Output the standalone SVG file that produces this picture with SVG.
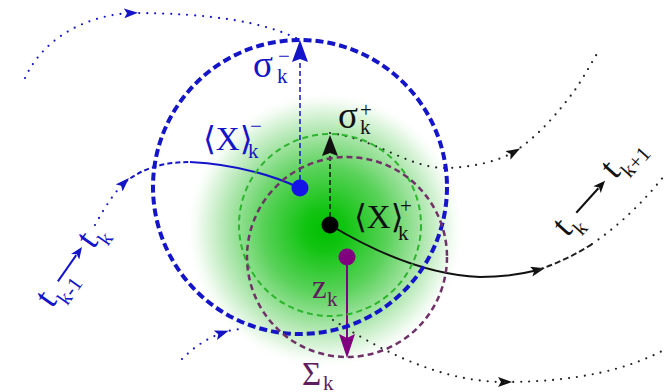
<svg xmlns="http://www.w3.org/2000/svg" width="664" height="392" viewBox="0 0 664 392">
<defs>
<radialGradient id="glow" cx="325" cy="230" r="140" gradientUnits="userSpaceOnUse">
<stop offset="0" stop-color="#00c000"/>
<stop offset="0.15" stop-color="#12c412"/>
<stop offset="0.45" stop-color="#5ad25a"/>
<stop offset="0.7" stop-color="#ade6ad"/>
<stop offset="0.88" stop-color="#e8f8e8"/>
<stop offset="1" stop-color="#ffffff" stop-opacity="0"/>
</radialGradient>
<marker id="mb" markerWidth="14" markerHeight="10" refX="7" refY="5" orient="auto" markerUnits="userSpaceOnUse"><path d="M0,0 L14,5 L0,10 L3,5 z" fill="#1414c8"/></marker>
<marker id="mk" markerWidth="14" markerHeight="10" refX="7" refY="5" orient="auto" markerUnits="userSpaceOnUse"><path d="M0,0 L14,5 L0,10 L3,5 z" fill="#111"/></marker>
<marker id="lb" markerWidth="12" markerHeight="10" refX="2" refY="5" orient="auto" markerUnits="userSpaceOnUse"><path d="M0,0 L12,5 L0,10 L3,5 z" fill="#1414c8"/></marker>
<marker id="lk" markerWidth="12" markerHeight="10" refX="2" refY="5" orient="auto" markerUnits="userSpaceOnUse"><path d="M0,0 L12,5 L0,10 L3,5 z" fill="#111"/></marker>
</defs>
<style>
text{font-family:"Liberation Serif","DejaVu Serif",serif}
.big{font-size:33px}
.sig{font-size:37px}
.tt{font-size:36px}
.sub{font-size:21px}
.blue{fill:#1414c8}
.blk{fill:#111}
.pur{fill:#5e1e5e}
.dotb{fill:none;stroke:#1414c8;stroke-width:2.2;stroke-linecap:round;stroke-dasharray:0 8}
.dotk{fill:none;stroke:#222;stroke-width:2.2;stroke-linecap:round;stroke-dasharray:0 8}
</style>
<rect x="0" y="0" width="664" height="392" fill="#fff"/>
<circle cx="325" cy="230" r="140" fill="url(#glow)"/>

<g id="connectors">
<path class="dotb" d="M25,78 C45,35 90,15 131,13" marker-end="url(#mb)"/>
<path class="dotb" d="M131,13 C210,13 265,22 300,40"/>
<path class="dotb" d="M95,225 C105,207 114,193 124,183" marker-end="url(#mb)"/>
<path fill="none" stroke="#1414c8" stroke-width="2" stroke-dasharray="5 3" d="M124,183 C140,170 160,162 190,162"/>
<path fill="none" stroke="#1414c8" stroke-width="2" d="M190,162 C230,164 265,172 300,188"/>
<path class="dotb" d="M182,359 C192,349 205,339 222,333" marker-end="url(#mb)"/>
<path class="dotb" d="M222,333 C230,330 238,329 245,329"/>
<path class="dotk" d="M333,320 C380,350 440,382 505,382" marker-end="url(#mk)"/>
<path class="dotk" d="M505,382 C580,382 630,368 664,350"/>
<path class="dotk" d="M330,133 C380,140 410,170 450,168 C480,166 500,160 514,152" marker-end="url(#mk)"/>
<path class="dotk" d="M514,152 C540,135 560,110 575,90 C585,75 592,62 598,52"/>
<path fill="none" stroke="#111" stroke-width="2" d="M330,225 C380,255 430,275 480,277 C505,277 522,274 538,270" marker-end="url(#mk)"/>
<path fill="none" stroke="#222" stroke-width="2" stroke-dasharray="6 3" d="M538,270 C558,263 575,255 592,244"/>
<path class="dotk" d="M592,244 C620,225 645,200 664,176"/>
<line x1="300" y1="188" x2="300" y2="60" stroke="#1414c8" stroke-width="1.5" stroke-dasharray="5 3"/>
<polygon points="300,40 308,62 300,59 292,62" fill="#1414c8"/>
<line x1="330" y1="225" x2="330" y2="152" stroke="#111" stroke-width="1.5" stroke-dasharray="5 3"/>
<polygon points="330,135 338,156 330,153 322,156" fill="#111"/>
<line x1="347" y1="257" x2="347" y2="338" stroke="#800080" stroke-width="2"/>
<polygon points="347,358 355,334 347,338 339,334" fill="#800080"/>
</g>

<g id="circle-minus">
<circle cx="300" cy="187" r="147" fill="none" stroke="#1414c8" stroke-width="4" stroke-dasharray="8 4"/>
</g>
<g id="circle-plus">
<circle cx="330" cy="225" r="91" fill="none" stroke="#2db52d" stroke-width="2" stroke-dasharray="6 4"/>
</g>
<g id="circle-z">
<circle cx="347" cy="257" r="100" fill="none" stroke="#703068" stroke-width="2.5" stroke-dasharray="6 4"/>
</g>

<g id="node-xminus">
<circle cx="300" cy="188" r="8.5" fill="#1414e6"/>
<text class="big blue" x="203" y="150">⟨X⟩</text>
<text class="sub blue" x="248" y="158">k</text>
<text class="sub blue" x="250" y="133">−</text>
</g>
<g id="node-xplus">
<circle cx="330" cy="225" r="8.5" fill="#000"/>
<text class="big blk" x="354" y="228">⟨X⟩</text>
<text class="sub blk" x="398" y="240">k</text>
<text class="sub blk" x="400" y="213">+</text>
</g>
<g id="node-z">
<circle cx="347" cy="257" r="8.5" fill="#800080"/>
<text class="big pur" x="312" y="298">z</text>
<text class="sub pur" x="327" y="306">k</text>
<text class="big pur" x="302" y="385">Σ</text>
<text class="sub pur" x="323" y="390">k</text>
</g>
<g id="label-sigma-minus">
<text class="sig blue" x="253" y="77">σ</text>
<text class="sub blue" x="277" y="83">k</text>
<text class="sub blue" x="278" y="63">−</text>
</g>
<g id="label-sigma-plus">
<text class="sig blk" x="338" y="128">σ</text>
<text class="sub blk" x="360" y="134">k</text>
<text class="sub blk" x="360" y="117">+</text>
</g>
<g id="label-left-time" transform="translate(52,309) rotate(-55)">
<text class="tt blue" x="0" y="0">t</text>
<text class="sub blue" x="11" y="11">k-1</text>
<line x1="26" y1="-11" x2="58" y2="-11" stroke="#1414c8" stroke-width="2" marker-end="url(#lb)"/>
<text class="tt blue" x="72" y="0">t</text>
<text class="sub blue" x="83" y="10">k</text>
</g>
<g id="label-right-time" transform="translate(567,238) rotate(-48)">
<text class="tt blk" x="0" y="0">t</text>
<text class="sub blk" x="11" y="10">k</text>
<line x1="25" y1="-10" x2="58" y2="-10" stroke="#111" stroke-width="2" marker-end="url(#lk)"/>
<text class="tt blk" x="75" y="-3">t</text>
<text class="sub blk" x="86" y="7">k+1</text>
</g>
</svg>
